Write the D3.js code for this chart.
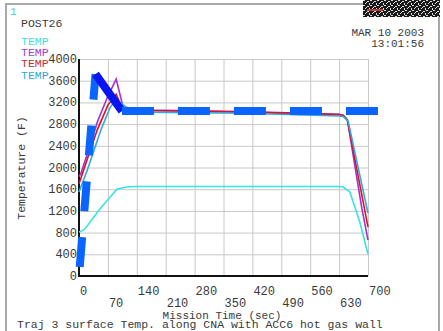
<!DOCTYPE html>
<html>
<head>
<meta charset="utf-8">
<script src="https://cdn.jsdelivr.net/npm/d3@7"></script>
<style>
  body { margin: 0; background: #fff; }
  text { font-family: "Liberation Mono", "DejaVu Sans Mono", monospace; fill: #3a3a3a; }
</style>
</head>
<body>
<svg id="chart" width="443" height="331"></svg>
<script>
// ---- data ----
const timeTicks = [0, 70, 140, 210, 280, 350, 420, 490, 560, 630, 700];
const tempTicks = [0, 400, 800, 1200, 1600, 2000, 2400, 2800, 3200, 3600, 4000];
const legendNames = ['TEMP', 'TEMP', 'TEMP', 'TEMP'];

// [time (sec), temperature (F)]
const tempCyan = [[0, 810], [10, 840], [20, 920], [50, 1230], [75, 1450], [92, 1600], [115, 1640],
  [140, 1650], [630, 1650], [640, 1640], [656, 1550], [680, 1000], [700, 400]];
const tempPurple = [[0, 1830], [5, 1900], [20, 2250], [45, 2850], [68, 3280], [90, 3630], [108, 3080],
  [160, 3060], [400, 3030], [630, 2980], [640, 2965], [650, 2880], [685, 1250], [700, 660]];
const tempRed = [[0, 1700], [20, 2150], [44, 2690], [70, 3150], [90, 3350], [104, 3100], [150, 3050],
  [400, 3020], [630, 2975], [640, 2960], [650, 2880], [700, 900]];
const tempBlue = [[0, 1550], [20, 1950], [53, 2690], [75, 3100], [90, 3260], [115, 3110], [160, 3020],
  [400, 3000], [630, 2950], [640, 2940], [652, 2850], [700, 1160]];
// thick dashed limit line
const limitLine = [[0, 0], [40, 3720], [104, 3040], [727, 3040]];

const seriesList = [tempCyan, tempPurple, tempRed, tempBlue];
const seriesColors = ['#36e4e4', '#a034d0', '#e0101c', '#32a8e0'];
const legendColors = ['#40e0e0', '#a040d0', '#c03030', '#30a8d8'];

// ---- layout ----
const svg = d3.select('#chart');
const x = d3.scaleLinear().domain([0, 700]).range([79, 368]);
const y = d3.scaleLinear().domain([0, 4000]).range([276, 59]);

// frame
svg.append('rect').attr('x', 6).attr('y', 4).attr('width', 433).attr('height', 340)
  .attr('fill', 'none').attr('stroke', '#a8a8a8').attr('stroke-width', 2);

// logo block (speckled)
const defs = svg.append('defs');
const pat = defs.append('pattern').attr('id', 'speck').attr('width', 7).attr('height', 5)
  .attr('patternUnits', 'userSpaceOnUse');
pat.append('rect').attr('width', 7).attr('height', 5).attr('fill', '#1a1a1a');
[[0, 0, 1, 1], [3, 1, 2, 1], [1, 3, 1, 1], [5, 3, 1, 2], [2, 2, 1, 1], [6, 0, 1, 1]].forEach(d => {
  pat.append('rect').attr('x', d[0]).attr('y', d[1]).attr('width', d[2]).attr('height', d[3]).attr('fill', '#ddd');
});
svg.append('rect').attr('x', 363).attr('y', 0).attr('width', 77).attr('height', 17).attr('fill', 'url(#speck)');
svg.append('rect').attr('x', 367).attr('y', 9).attr('width', 16).attr('height', 2).attr('fill', '#c03838');

// grid via axes
const gridY = svg.append('g').attr('transform', `translate(${x(0)},0)`)
  .call(d3.axisLeft(y).tickValues(tempTicks).tickSize(-(x(700) - x(0))).tickFormat(''));
const gridX = svg.append('g').attr('transform', `translate(0,${y(0)})`)
  .call(d3.axisBottom(x).tickValues(timeTicks).tickSize(-(y(0) - y(4000))).tickFormat(''));
[gridX, gridY].forEach(g => {
  g.select('.domain').remove();
  g.selectAll('line').attr('stroke', '#c8c8c8').attr('stroke-width', 1);
});

// tick labels
svg.append('g').selectAll('text').data(tempTicks).join('text')
  .attr('x', x(0) - 2).attr('y', d => y(d) + 4)
  .attr('text-anchor', 'end').style('font-size', '12px')
  .text(d => d);
svg.append('g').selectAll('text').data(timeTicks).join('text')
  .attr('x', d => x(d) + 1).attr('y', (d, i) => i % 2 === 0 ? 295 : 306.5)
  .attr('text-anchor', 'start').style('font-size', '12px')
  .text(d => d);

// axis lines
svg.append('line').attr('x1', x(0)).attr('x2', x(0)).attr('y1', y(4000)).attr('y2', y(0) + 1)
  .attr('stroke', '#111').attr('stroke-width', 2);
svg.append('line').attr('x1', x(0) - 1).attr('x2', x(700)).attr('y1', y(0)).attr('y2', y(0))
  .attr('stroke', '#111').attr('stroke-width', 2);

// curves
const line = d3.line().x(d => x(d[0])).y(d => y(d[1]));
svg.append('g').selectAll('path').data(seriesList).join('path')
  .attr('d', line).attr('fill', 'none')
  .attr('stroke', (d, i) => seriesColors[i]).attr('stroke-width', 1.6);

// thick dashed line, dash pattern restarts on each segment
const limitSegs = d3.pairs(limitLine);
const segStyle = [
  { color: '#0a64ff', dash: '30,26', offset: 47 },
  { color: '#0a14f0', dash: null, offset: 0 },
  { color: '#0a64ff', dash: '32,24', offset: 0 },
];
svg.append('g').selectAll('path').data(limitSegs).join('path')
  .attr('d', line).attr('fill', 'none')
  .attr('stroke', (d, i) => segStyle[i].color).attr('stroke-width', 8)
  .attr('stroke-dasharray', (d, i) => segStyle[i].dash)
  .attr('stroke-dashoffset', (d, i) => segStyle[i].offset);

// texts
svg.append('text').attr('x', 10).attr('y', 15).style('font-size', '11px').style('fill', '#30d8d8').text('1');
svg.append('text').attr('x', 21).attr('y', 27).style('font-size', '11.5px').text('POST26');
svg.append('g').selectAll('text').data(legendNames).join('text')
  .attr('x', 21).attr('y', (d, i) => 45 + i * 11.2)
  .style('font-size', '11.5px').style('fill', (d, i) => legendColors[i])
  .text(d => d);
svg.append('text').attr('x', 424).attr('y', 36).attr('text-anchor', 'end').style('font-size', '11px').text('MAR 10 2003');
svg.append('text').attr('x', 424).attr('y', 47).attr('text-anchor', 'end').style('font-size', '11px').text('13:01:56');
svg.append('text').attr('transform', 'translate(25,168) rotate(-90)').attr('text-anchor', 'middle')
  .style('font-size', '11.5px').text('Temperature (F)');
svg.append('text').attr('x', 222).attr('y', 318.5).attr('text-anchor', 'middle')
  .style('font-size', '11px').text('Mission Time (sec)');
svg.append('text').attr('x', 17).attr('y', 327.5)
  .style('font-size', '11.5px').text('Traj 3 surface Temp. along CNA with ACC6 hot gas wall');
</script>
</body>
</html>
